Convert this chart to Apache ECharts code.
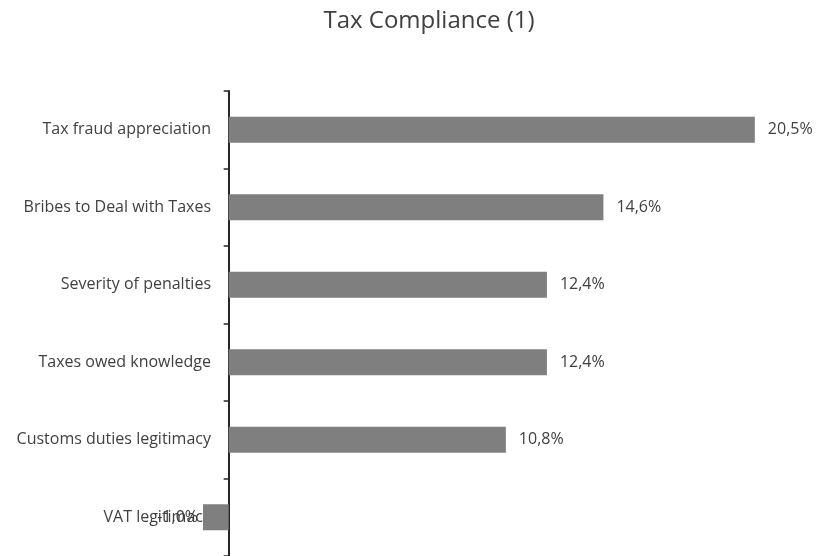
<!DOCTYPE html>
<html>
<head>
<meta charset="utf-8">
<script src="https://cdn.jsdelivr.net/npm/echarts@6/dist/echarts.min.js"></script>
<style>
  html, body { margin: 0; padding: 0; background: #fff; }
  #chart { width: 819px; height: 556px; }
</style>
</head>
<body>
<div id="chart"></div>
<script>
// Categories listed bottom to top, as the category axis draws them
const categories = [
  'VAT legitimacy',
  'Customs duties legitimacy',
  'Taxes owed knowledge',
  'Severity of penalties',
  'Bribes to Deal with Taxes',
  'Tax fraud appreciation'
];
const shares = [-1.0, 10.8, 12.4, 12.4, 14.6, 20.5];
const titleText = 'Tax Compliance (1)';

const fontFamily = '"Open Sans", "Noto Sans", sans-serif';

const chart = echarts.init(document.getElementById('chart'), null, { renderer: 'canvas' });
chart.setOption({
  animation: false,
  backgroundColor: '#ffffff',
  title: {
    text: titleText,
    left: 424,
    top: 4,
    textAlign: 'center',
    textStyle: { fontFamily, fontSize: 24, fontWeight: 'normal', color: '#404040' }
  },
  grid: { left: 203, right: 0, top: 91, bottom: 0 },
  xAxis: {
    type: 'value',
    min: -1,
    max: 23,
    show: false
  },
  yAxis: {
    type: 'category',
    data: categories,
    axisLine: { onZero: true, lineStyle: { color: '#262626', width: 2 } },
    axisTick: { show: true, inside: false, length: 5, lineStyle: { color: '#262626', width: 1.5 } },
    axisLabel: { margin: -8, fontFamily, fontSize: 16, color: '#404040' },
    splitLine: { show: false }
  },
  series: [{
    type: 'bar',
    barWidth: 26,
    itemStyle: { color: '#7f7f7f' },
    label: {
      show: true,
      position: 'right',
      distance: 13,
      fontFamily,
      fontSize: 16,
      color: '#404040',
      formatter: p => p.value.toFixed(1).replace('.', ',') + '%'
    },
    // negative values take their label on the left of the bar
    data: shares.map(v => v < 0
      ? { value: v, label: { position: 'left', distance: 5 } }
      : v)
  }]
});
</script>
</body>
</html>
